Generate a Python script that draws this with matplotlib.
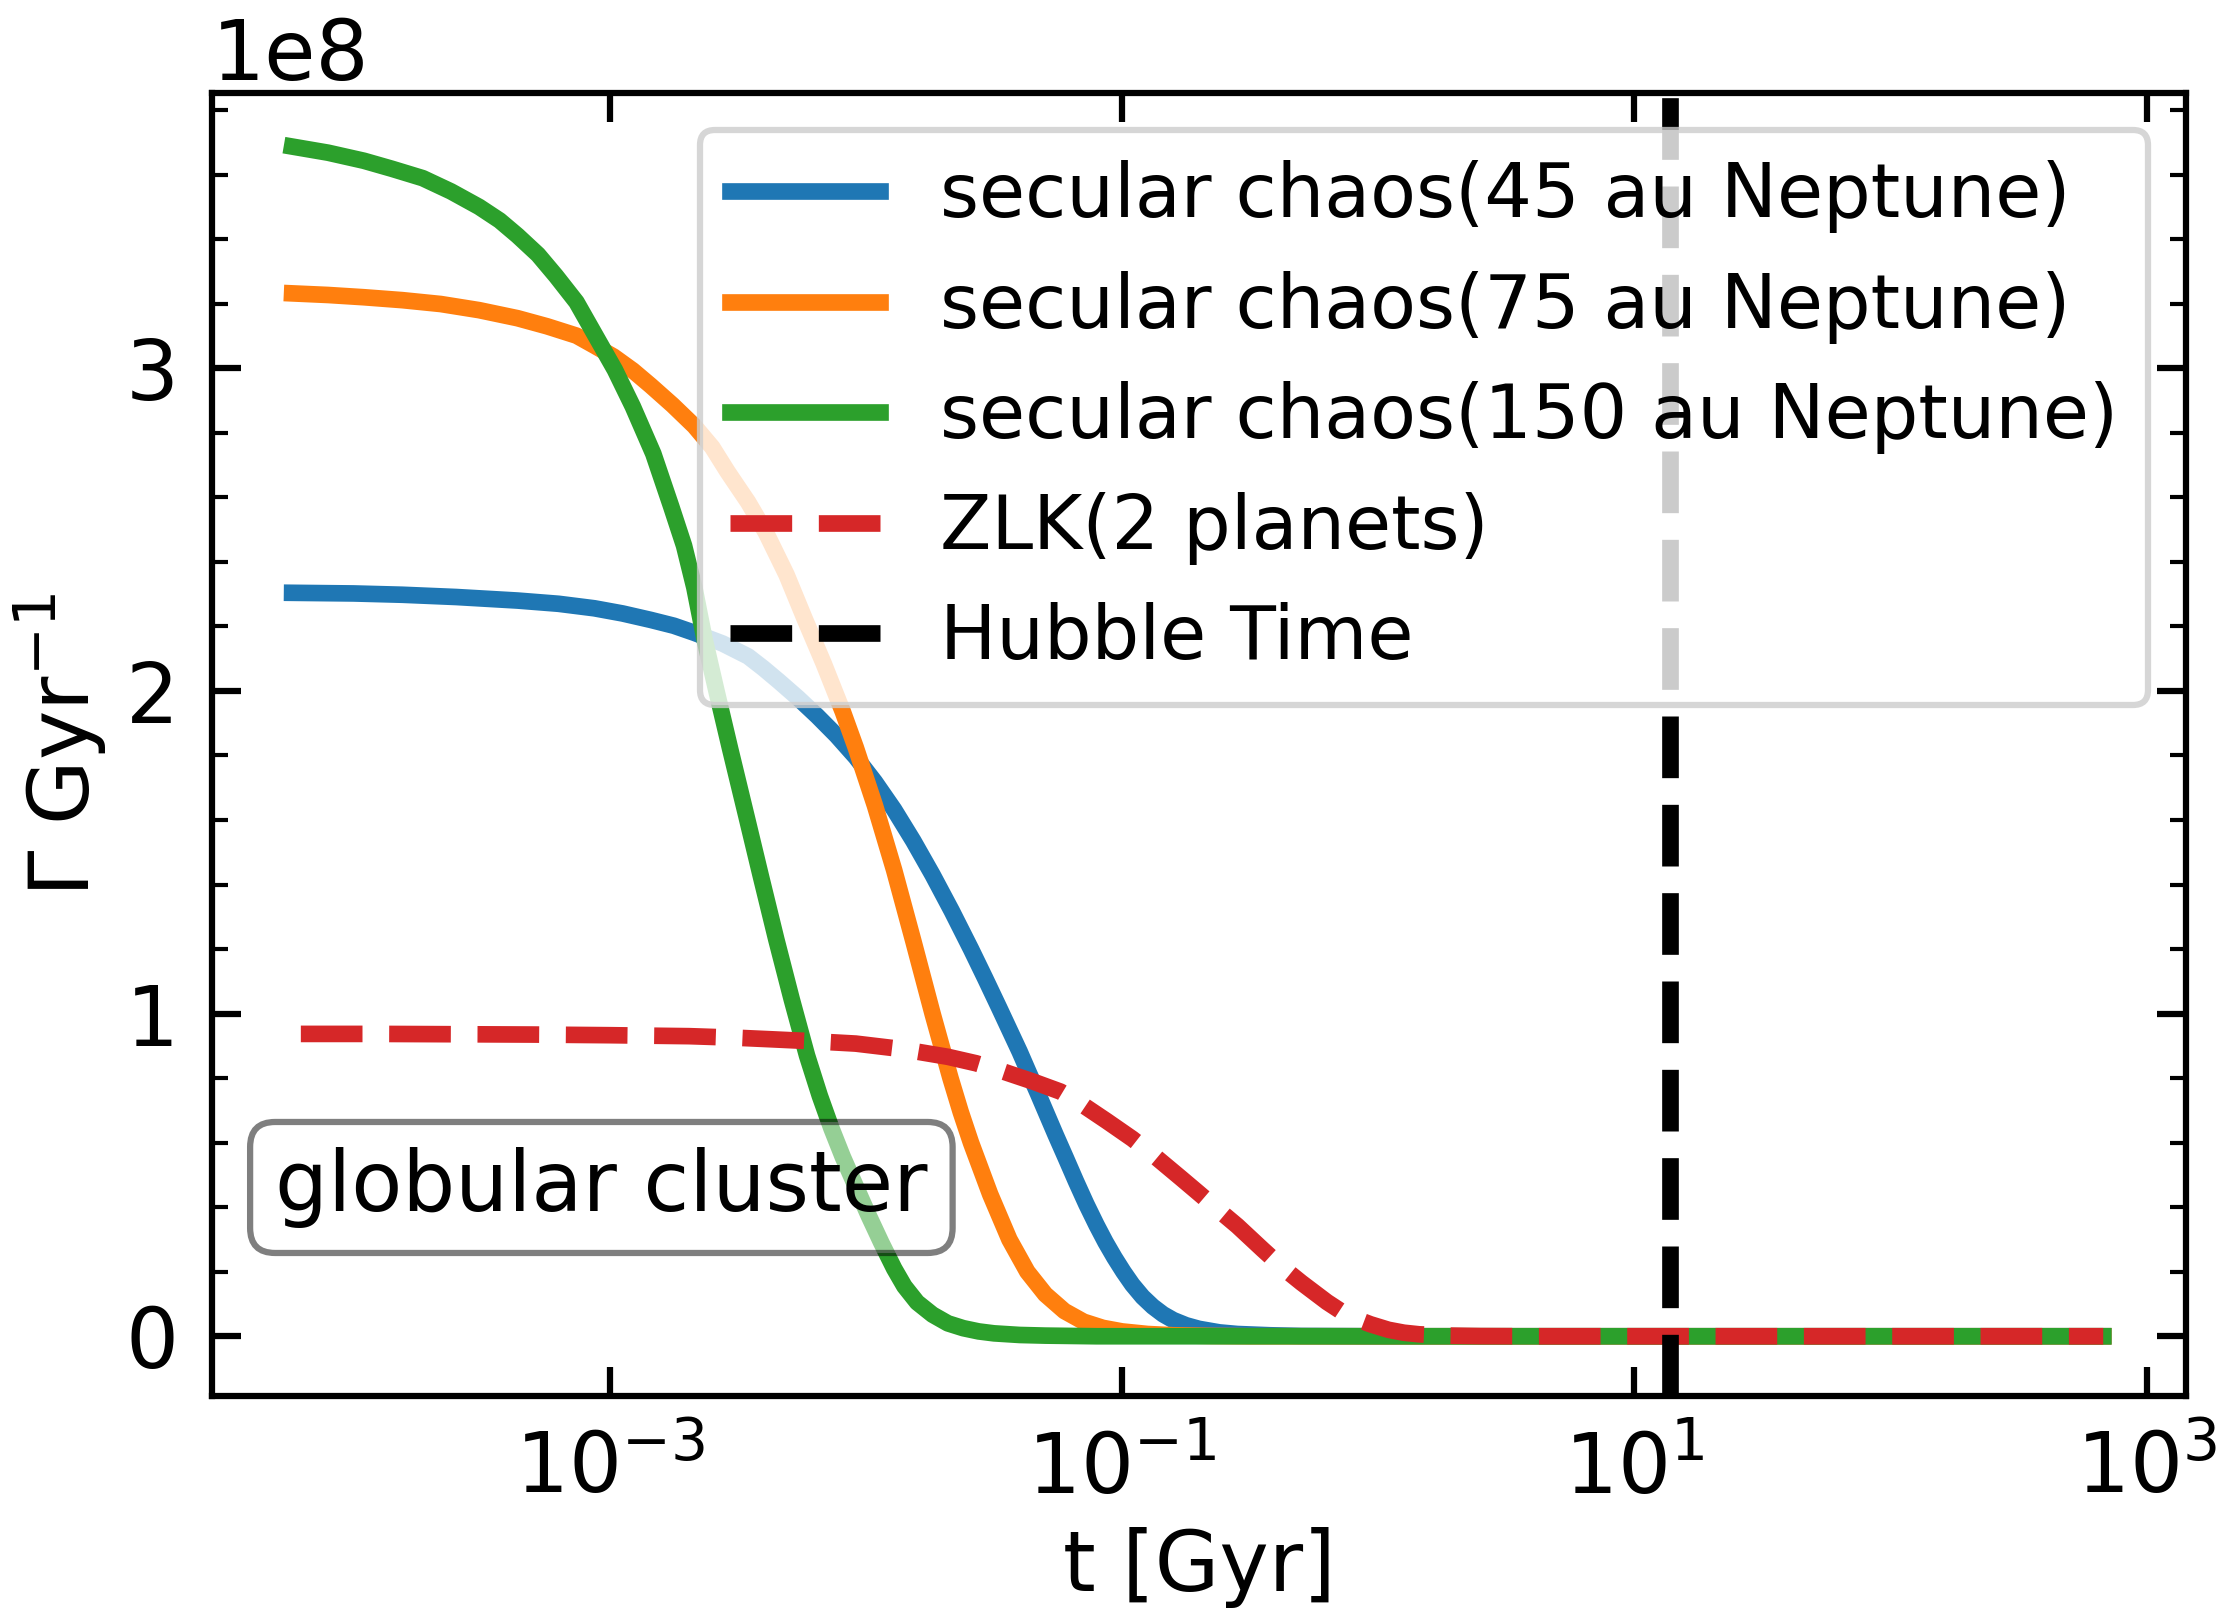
import numpy as np
import matplotlib
matplotlib.use("Agg")
import matplotlib.pyplot as plt
from matplotlib.ticker import FixedLocator, NullLocator, AutoMinorLocator, LogFormatterSciNotation

# values: log10(t / Gyr) and rate in units of 1e8 / Gyr
blue_logt = [-4.24, -4.0, -3.81, -3.6, -3.36, -3.2, -3.06, -2.95, -2.84, -2.75, -2.67, -2.56,
             -2.46, -2.40, -2.34, -2.265, -2.19, -2.115, -2.04, -1.965, -1.89, -1.815, -1.74,
             -1.665, -1.59, -1.535, -1.48, -1.44, -1.40, -1.365, -1.33, -1.295, -1.26, -1.22,
             -1.18, -1.14, -1.10, -1.065, -1.03, -0.995, -0.96, -0.92, -0.88, -0.84, -0.80,
             -0.75, -0.70, -0.62, -0.55, -0.42, -0.30, 0.0, 2.83]
blue_rate = [2.304, 2.302, 2.298, 2.291, 2.280, 2.270, 2.256, 2.240, 2.220, 2.202, 2.180, 2.147,
             2.107, 2.070, 2.030, 1.978, 1.922, 1.862, 1.795, 1.718, 1.632, 1.535, 1.430,
             1.318, 1.200, 1.110, 1.018, 0.950, 0.882, 0.818, 0.755, 0.690, 0.625, 0.553,
             0.480, 0.410, 0.345, 0.292, 0.244, 0.200, 0.160, 0.122, 0.092, 0.068, 0.050,
             0.034, 0.023, 0.012, 0.007, 0.003, 0.001, 0.0, 0.0]

orange_logt = [-4.24, -4.10, -3.96, -3.81, -3.66, -3.51, -3.36, -3.245, -3.13, -3.06, -2.985,
               -2.91, -2.84, -2.755, -2.67, -2.60, -2.54, -2.46, -2.39, -2.31, -2.24, -2.165,
               -2.09, -2.04, -1.965, -1.89, -1.815, -1.74, -1.67, -1.63, -1.59, -1.515, -1.44,
               -1.37, -1.30, -1.225, -1.15, -1.075, -1.00, -0.90, -0.80, -0.65, -0.50, 2.83]
orange_rate = [3.232, 3.227, 3.220, 3.211, 3.199, 3.180, 3.155, 3.130, 3.101, 3.070, 3.036,
               2.993, 2.946, 2.886, 2.821, 2.755, 2.679, 2.585, 2.490, 2.360, 2.225, 2.085,
               1.935, 1.825, 1.645, 1.445, 1.225, 1.000, 0.800, 0.695, 0.600, 0.440, 0.300,
               0.200, 0.130, 0.078, 0.045, 0.026, 0.015, 0.007, 0.003, 0.001, 0.0, 0.0]

green_logt = [-4.24, -4.10, -3.96, -3.85, -3.73, -3.62, -3.51, -3.43, -3.36, -3.28, -3.21,
              -3.13, -3.06, -2.98, -2.91, -2.83, -2.76, -2.71, -2.67, -2.63, -2.585, -2.53,
              -2.466, -2.41, -2.35, -2.29, -2.23, -2.18, -2.135, -2.09, -2.04, -1.99, -1.94,
              -1.89, -1.85, -1.80, -1.74, -1.68, -1.62, -1.56, -1.50, -1.40, -1.30, -1.10, 2.83]
green_rate = [3.687, 3.668, 3.643, 3.618, 3.589, 3.548, 3.500, 3.458, 3.411, 3.352, 3.286,
              3.205, 3.107, 2.995, 2.881, 2.735, 2.571, 2.450, 2.321, 2.160, 2.005, 1.820,
              1.610, 1.425, 1.230, 1.045, 0.870, 0.745, 0.645, 0.555, 0.465, 0.375, 0.290,
              0.210, 0.155, 0.105, 0.067, 0.040, 0.025, 0.015, 0.009, 0.004, 0.002, 0.0, 0.0]

red_logt = [-4.206, -3.9, -3.6, -3.3, -3.0, -2.69, -2.50, -2.36, -2.20, -2.04, -1.86, -1.68,
            -1.57, -1.47, -1.41, -1.35, -1.24, -1.15, -1.06, -0.96, -0.865, -0.77, -0.70,
            -0.625, -0.55, -0.50, -0.45, -0.40, -0.35, -0.30, -0.25, -0.20, -0.15, -0.09,
            -0.03, 0.04, 0.10, 0.16, 0.28, 0.4, 0.6, 2.83]
red_rate = [0.937, 0.937, 0.936, 0.935, 0.933, 0.930, 0.925, 0.920, 0.914, 0.907, 0.890, 0.866,
            0.846, 0.822, 0.806, 0.790, 0.758, 0.715, 0.667, 0.612, 0.553, 0.490, 0.443,
            0.392, 0.342, 0.305, 0.268, 0.232, 0.198, 0.166, 0.136, 0.106, 0.080, 0.055,
            0.037, 0.020, 0.011, 0.006, 0.002, 0.0005, 0.0, 0.0]

hubble_time = 13.8  # Gyr

labels = ['secular chaos(45 au Neptune)', 'secular chaos(75 au Neptune)',
          'secular chaos(150 au Neptune)', 'ZLK(2 planets)', 'Hubble Time']

plt.rcParams['font.family'] = ['DejaVu Sans']
plt.rcParams['mathtext.fontset'] = 'dejavusans'
plt.rcParams['axes.linewidth'] = 1.5
plt.rcParams['patch.linewidth'] = 1.5


def to_t(logt):
    return np.power(10.0, np.array(logt))


def to_rate(r):
    return np.array(r) * 1e8


fig, ax = plt.subplots(figsize=(7.39, 5.4), dpi=300)
fig.subplots_adjust(left=0.0956, right=0.986, bottom=0.1383, top=0.9426)

ax.plot(to_t(blue_logt), to_rate(blue_rate), color='tab:blue', lw=4, label=labels[0])
ax.plot(to_t(orange_logt), to_rate(orange_rate), color='tab:orange', lw=4, label=labels[1])
ax.plot(to_t(green_logt), to_rate(green_rate), color='tab:green', lw=4, label=labels[2])
ax.plot(to_t(red_logt), to_rate(red_rate), color='tab:red', lw=4, ls='--', label=labels[3])
ax.axvline(hubble_time, color='k', lw=4, ls='--', label=labels[4])

ax.set_xscale('log')
ax.set_xlim(10 ** -4.553, 10 ** 3.153)
ax.set_ylim(-0.185e8, 3.853e8)

ax.xaxis.set_major_locator(FixedLocator([1e-3, 1e-1, 1e1, 1e3]))
ax.xaxis.set_major_formatter(LogFormatterSciNotation())
ax.xaxis.set_minor_locator(NullLocator())
ax.yaxis.set_major_locator(FixedLocator([0, 1e8, 2e8, 3e8]))
ax.yaxis.set_minor_locator(AutoMinorLocator(5))

ax.tick_params(which='both', direction='in', top=True, right=True, labelsize=20)
ax.tick_params(which='major', length=7, width=1.5, pad=8)
ax.tick_params(which='minor', length=3.8, width=1.0)
ax.yaxis.get_offset_text().set_fontsize(20)

ax.set_xlabel('t [Gyr]', fontsize=20)
ax.set_ylabel(r'$\Gamma$ Gyr$^{-1}$', fontsize=20)

ax.legend(loc='upper right', fontsize=18)

ax.text(0.032, 0.160, 'globular cluster', transform=ax.transAxes, fontsize=20,
        ha='left', va='center',
        bbox=dict(boxstyle='round', facecolor='white', alpha=0.5))

fig.savefig('out.png', dpi=300)
